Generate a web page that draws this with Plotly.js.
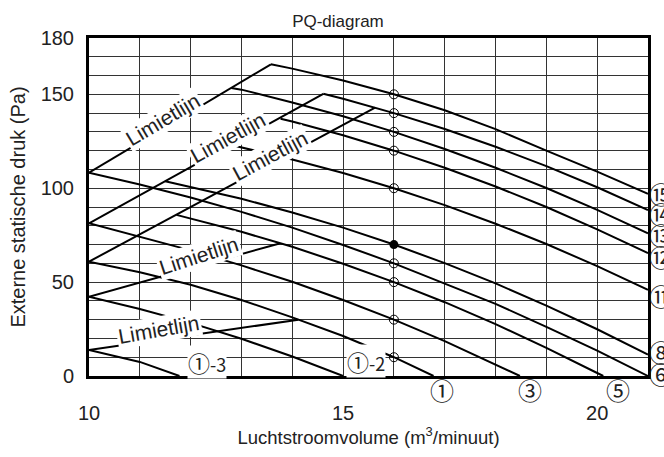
<!DOCTYPE html>
<html><head><meta charset="utf-8">
<script src="https://cdn.plot.ly/plotly-3.0.1.min.js"></script>
<style>html,body{margin:0;padding:0;background:#fff}#chart{width:664px;height:457px}</style>
</head><body><div id="chart"></div>
<script>
// ---- fan tap curves (airflow m3/min, external static pressure Pa) ----
const tap15X = [13.58, 14, 15, 16, 17, 18, 19, 20, 21];
const tap15Y = [166, 163.7, 157.4, 150, 141.5, 131.5, 120, 108.8, 97];
const tap14X = [14.61, 15, 16, 17, 18, 19, 20, 21];
const tap14Y = [150.3, 147.6, 140, 131.5, 122.1, 111.8, 100.5, 88.4];
const tap13X = [12.8, 13, 14, 15, 16, 17, 18, 19, 20, 21];
const tap13Y = [153.4, 152.5, 145.7, 138.3, 130, 120.9, 110.9, 100.1, 88.5, 76];
const tap12X = [13.77, 14, 15, 16, 17, 18, 19, 20, 21];
const tap12Y = [137.0, 135.5, 128.2, 120, 110.9, 100.9, 90, 78.1, 65.4];
const tap11X = [12.8, 13, 14, 15, 16, 17, 18, 19, 20, 21];
const tap11Y = [123, 121.7, 115.3, 108.1, 100, 91, 81.1, 70.3, 58.5, 45.9];
const tap8X = [11.5, 12, 13, 14, 15, 16, 17, 18, 19, 20, 21];
const tap8Y = [103.7, 100.7, 94.4, 87.1, 79, 70, 60.1, 49.3, 37.5, 24.9, 11.4];
const tap6X = [10, 11, 12, 13, 14, 15, 16, 17, 18, 19, 20, 21];
const tap6Y = [108.3, 102, 95.1, 87.4, 79, 69.8, 60, 49.4, 38.4, 26.2, 13.5, 0];
const tap5X = [11.72, 12, 13, 14, 15, 16, 17, 18, 19, 20, 20.12];
const tap5Y = [85.8, 83.9, 76.8, 68.8, 59.8, 50, 39.3, 27.6, 15, 1.6, 0];
const tap3X = [10, 11, 12, 13, 14, 15, 16, 17, 18, 18.48];
const tap3Y = [81.3, 74.3, 66.9, 58.9, 50.2, 40.5, 30, 18.6, 6.2, 0];
const tap1X = [10, 11, 12, 13, 14, 15, 16, 16.78];
const tap1Y = [60.9, 55.3, 48.6, 40.5, 31.2, 21.3, 10, 0];
const tap1b2X = [10, 11, 12, 13, 14, 15];
const tap1b2Y = [42.2, 35.7, 28.3, 19.8, 10.4, 0];
const tap1b3X = [10, 11, 11.78];
const tap1b3Y = [13.8, 7.5, 0];

// ---- limit lines (Limietlijn) ----
const lim1X = [10, 13.58], lim1Y = [108.3, 166];
const lim2X = [10, 14.61], lim2Y = [81.3, 150.3];
const lim3X = [10, 15.63], lim3Y = [60.9, 142.9];
const lim4X = [10, 13.75], lim4Y = [42.2, 70.6];
const lim5X = [10, 14.12], lim5Y = [13.8, 30];

// ---- operating points at 16 m3/min ----
const openPtX = [16, 16, 16, 16, 16, 16, 16, 16, 16];
const openPtY = [150, 140, 130, 120, 100, 60, 50, 30, 10];
const ratedPtX = [16], ratedPtY = [70];

// ---- labels ----
const rightLabels = ['⑮', '⑭', '⑬', '⑫', '⑪', '⑧', '⑥'];
const rightLabelY = [97.4, 86.8, 75.1, 63.5, 43.1, 12.9, 1.4];
const bottomLabels = ['①', '③', '⑤'];
const bottomLabelX = [16.94, 18.68, 20.41];
const xTicks = [10, 15, 20];
const yTicks = [0, 50, 100, 150, 180];

const lineStyle = {color: '#000', width: 2};
const curves = [
  [tap15X, tap15Y], [tap14X, tap14Y], [tap13X, tap13Y], [tap12X, tap12Y], [tap11X, tap11Y],
  [tap8X, tap8Y], [tap6X, tap6Y], [tap5X, tap5Y], [tap3X, tap3Y], [tap1X, tap1Y],
  [tap1b2X, tap1b2Y], [tap1b3X, tap1b3Y],
  [lim1X, lim1Y], [lim2X, lim2Y], [lim3X, lim3Y], [lim4X, lim4Y], [lim5X, lim5Y]
];
const traces = curves.map(c => ({x: c[0], y: c[1], type: 'scatter', mode: 'lines',
  line: lineStyle, hoverinfo: 'skip', showlegend: false, cliponaxis: true}));
traces.push({x: openPtX, y: openPtY, type: 'scatter', mode: 'markers', showlegend: false,
  marker: {symbol: 'circle-open', size: 9, color: '#000', line: {width: 1, color: '#000'}}});
traces.push({x: ratedPtX, y: ratedPtY, type: 'scatter', mode: 'markers', showlegend: false,
  marker: {symbol: 'circle', size: 9, color: '#000'}});

const txtFont = 'Liberation Sans, Arial, Helvetica, sans-serif';
const circFont = 'Noto Sans CJK JP, Liberation Sans, sans-serif';
const ann = [];
// Limietlijn labels: [x, y on line, angle, xshift, yshift]
const limLabels = [
  [11.53, 132.9, -30.8, -4.1, 6.9],
  [12.81, 123.4, -28.9, -3.9, 7.0],
  [13.64, 113.9, -28.3, -3.8, 7.0],
  [12.22, 59.0, -18, -2.9, 9.6],
  [11.40, 19.3, -10, -1.5, 9.9]
];
limLabels.forEach(l => ann.push({x: l[0], y: l[1], xref: 'x', yref: 'y', text: 'Limietlijn',
  textangle: l[2], xshift: l[3], yshift: l[4], showarrow: false, bgcolor: '#fff', borderpad: 1,
  font: {family: txtFont, size: 21, color: '#222'}}));
rightLabels.forEach((t, i) => ann.push({x: 21, y: rightLabelY[i], xref: 'x', yref: 'y', text: t,
  xanchor: 'left', yanchor: 'middle', xshift: -1, showarrow: false,
  font: {family: circFont, size: 24, color: '#222'}}));
bottomLabels.forEach((t, i) => ann.push({x: bottomLabelX[i], y: 0, xref: 'x', yref: 'y', text: t,
  xanchor: 'center', yanchor: 'middle', yshift: -13, showarrow: false,
  font: {family: circFont, size: 24, color: '#222'}}));
const circSpan = s => '<span style="font-size:22px">' + s + '</span>';
ann.push({x: 12.32, y: 6.4, xref: 'x', yref: 'y', text: circSpan('①') + '-3', showarrow: false, bgcolor: '#fff',
  borderpad: 0, yshift: 2, font: {family: circFont, size: 18, color: '#222'}});
ann.push({x: 15.45, y: 6.9, xref: 'x', yref: 'y', text: circSpan('①') + '-2', showarrow: false, bgcolor: '#fff',
  borderpad: 0, yshift: 2, font: {family: circFont, size: 18, color: '#222'}});

const layout = {
  width: 664, height: 457,
  margin: {l: 89, r: 16, t: 38, b: 81},
  paper_bgcolor: '#fff', plot_bgcolor: '#fff',
  font: {family: txtFont, size: 20, color: '#222'},
  title: {text: 'PQ-diagram', font: {size: 17, color: '#222'}, xref: 'container', yref: 'container',
    x: 0.509, y: 0.955, xanchor: 'center', yanchor: 'middle'},
  xaxis: {range: [10, 21], tickvals: xTicks, ticktext: xTicks.map(String), ticks: '',
    showgrid: true, gridcolor: '#333', gridwidth: 1,
    minor: {tick0: 10, dtick: 1, showgrid: true, gridcolor: '#333', gridwidth: 1, ticks: ''},
    showline: true, mirror: true, linecolor: '#000', linewidth: 3, zeroline: false,
    ticklabelstandoff: 17, tickfont: {size: 20},
    title: {text: 'Luchtstroomvolume (m<sup>3</sup>/minuut)', font: {size: 18.5}, standoff: 8}},
  yaxis: {range: [0, 180], tickvals: yTicks, ticktext: yTicks.map(String), ticks: '',
    showgrid: true, gridcolor: '#333', gridwidth: 1,
    minor: {tick0: 0, dtick: 10, showgrid: true, gridcolor: '#333', gridwidth: 1, ticks: ''},
    showline: true, mirror: true, linecolor: '#000', linewidth: 3, zeroline: false,
    ticklabelstandoff: 8, tickfont: {size: 20},
    title: {text: 'Externe statische druk (Pa)', font: {size: 20}, standoff: 10}},
  annotations: ann
};
Plotly.newPlot('chart', traces, layout, {staticPlot: true, displayModeBar: false});
</script></body></html>
